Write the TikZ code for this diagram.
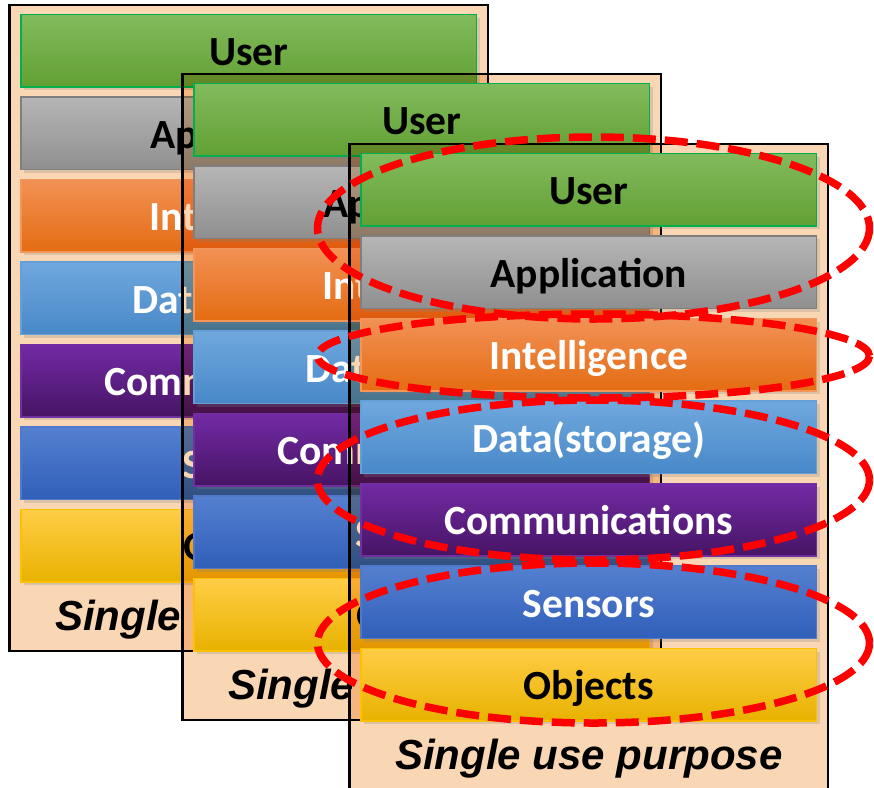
\documentclass[tikz,border=0pt]{standalone}
\usepackage{fontspec}
\setmainfont{Carlito}
\newfontfamily\lblfont{Liberation Sans}
\usetikzlibrary{shadows}
\definecolor{peach}{RGB}{250,215,180}
\definecolor{userT}{RGB}{130,187,92}\definecolor{userB}{RGB}{98,160,52}\definecolor{userD}{RGB}{0,176,80}
\definecolor{appT}{RGB}{182,182,182}\definecolor{appB}{RGB}{143,143,143}\definecolor{appD}{RGB}{127,127,127}
\definecolor{intT}{RGB}{242,145,85}\definecolor{intM}{RGB}{245,128,40}\definecolor{intB}{RGB}{228,108,18}\definecolor{intD}{RGB}{244,150,90}
\definecolor{datT}{RGB}{112,168,222}\definecolor{datB}{RGB}{72,136,200}\definecolor{datD}{RGB}{100,160,215}
\definecolor{comT}{RGB}{115,42,165}\definecolor{comB}{RGB}{70,20,100}\definecolor{comD}{RGB}{112,48,160}
\definecolor{senT}{RGB}{85,128,208}\definecolor{senB}{RGB}{48,95,185}\definecolor{senD}{RGB}{80,120,205}
\definecolor{objT}{RGB}{255,205,70}\definecolor{objM}{RGB}{255,195,0}\definecolor{objB}{RGB}{232,178,0}\definecolor{objD}{RGB}{255,192,0}
\definecolor{hlred}{RGB}{255,0,0}
\tikzset{
  bar/.style={rectangle, minimum width=455.5pt, minimum height=72.5pt, inner sep=0pt, outer sep=0pt,
    line width=1.5pt, text height=30pt, text depth=0pt,
    font=\bfseries\fontsize{41.5}{41.5}\selectfont,
    drop shadow={opacity=0.25, shadow xshift=3pt, shadow yshift=-3pt}},
  userbar/.style={bar, draw=userD, top color=userT, bottom color=userB, text=black},
  appbar/.style={bar, draw=appD, top color=appT, bottom color=appB, text=black},
  intbar/.style={bar, draw=intD, top color=intT, middle color=intM, bottom color=intB, text=white},
  datbar/.style={bar, draw=datD, top color=datT, bottom color=datB, text=white},
  combar/.style={bar, draw=comD, top color=comT, bottom color=comB, text=white},
  senbar/.style={bar, draw=senD, top color=senT, bottom color=senB, text=white},
  objbar/.style={bar, draw=objD, top color=objT, middle color=objM, bottom color=objB, text=black},
  panelbg/.style={rectangle, minimum width=478.5pt, minimum height=646pt, inner sep=0pt, outer sep=0pt,
    fill=peach, blend mode=multiply},
  panelline/.style={draw=black, line width=2.3pt},
  lbl/.style={inner sep=0pt, text height=30pt, text depth=0pt, text=black,
    font=\lblfont\bfseries\itshape\fontsize{42}{42}\selectfont},
  hlring/.style={draw=hlred, line width=7.5pt, dash pattern=on 23pt off 9pt}
}
\newcommand{\mypanel}[3]{%
  \node[panelbg] (#3box) at (#1+239.25, #2+323) {};
  \node[userbar] (#3user) at (#1+239.25, #2+45.75) {User};
  \node[appbar] (#3app) at (#1+239.25, #2+128.25) {Application};
  \node[intbar] (#3int) at (#1+239.25, #2+210.75) {Intelligence};
  \node[datbar] (#3dat) at (#1+239.25, #2+293.25) {Data(storage)};
  \node[combar] (#3com) at (#1+239.25, #2+375.75) {Communications};
  \node[senbar] (#3sen) at (#1+239.25, #2+458.25) {Sensors};
  \node[objbar] (#3obj) at (#1+239.25, #2+540.75) {Objects};
  \node[lbl] (#3lbl) at (#1+239.25, #2+610) {Single use purpose};
  \draw[panelline] (#3box.north west) rectangle (#3box.south east);
}
\begin{document}
\begin{tikzpicture}[x=1pt, y=-1pt]
  \useasboundingbox (0,0) rectangle (874,787);
  \mypanel{9.5}{5}{pa}
  \mypanel{182.5}{74}{pb}
  \mypanel{349.5}{144}{pc}
  \draw[hlring] (593.5,228) ellipse [x radius=276, y radius=91];
  \draw[hlring] (593.5,356) ellipse [x radius=276, y radius=42];
  \draw[hlring] (593.5,480) ellipse [x radius=276, y radius=80];
  \draw[hlring] (593.5,643) ellipse [x radius=276, y radius=80];
\end{tikzpicture}
\end{document}
